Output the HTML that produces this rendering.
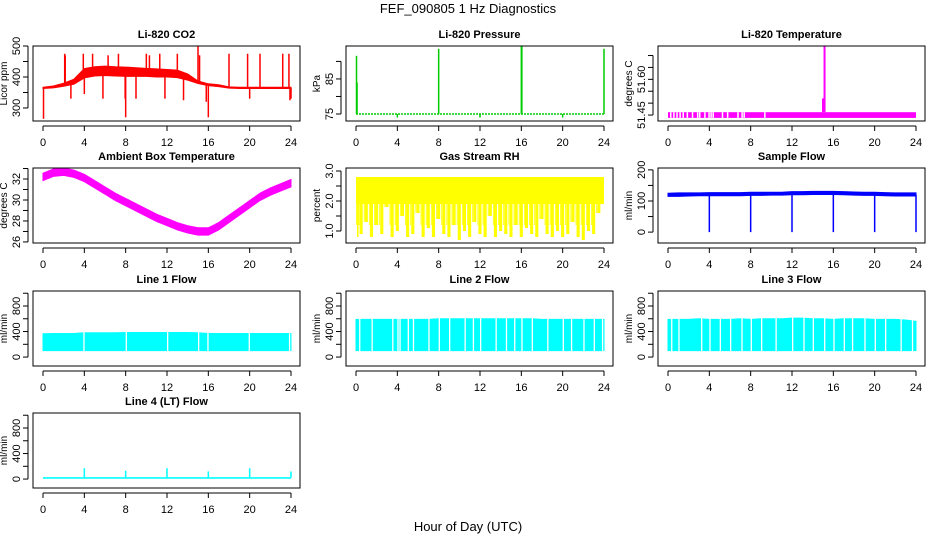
<!DOCTYPE html>
<html><head><meta charset="utf-8"><style>
body{margin:0;background:#fff;}
svg{display:block;font-family:"Liberation Sans",Arial,sans-serif;}
</style></head><body>
<svg id="chart" width="936" height="540" viewBox="0 0 936 540" xmlns="http://www.w3.org/2000/svg">
<rect width="936" height="540" fill="#fff"/>
<text x="468" y="13" text-anchor="middle" font-size="13">FEF_090805  1 Hz Diagnostics</text>
<text x="468" y="531" text-anchor="middle" font-size="13">Hour of Day (UTC)</text>
</svg>
<script>
const hours = [0,1,2,3,4,5,6,7,8,9,10,11,12,13,14,15,16,17,18,19,20,21,22,23,24];
const xTicks = [0,4,8,12,16,20,24];
// CO2
const co2Base = [365,368,375,385,412,418,420,418,417,416,415,413,412,410,400,383,375,372,366,365,365,365,365,365,365];
const co2Half = [2,3,5,8,15,15,15,15,15,14,13,13,12,12,10,4,3,3,2,2,2,2,2,2,2];
const co2SpikeHours = [0.05,2.1,2.15,3.9,4.8,7.3,7.95,8.0,10.0,11.3,13.0,15.0,15.15,16.0,18.0,19.8,21.0,23.2,23.8,24.0,2.7,5.8,9.0,11.8,13.6,15.8,20.0,23.9,4.0,6.3,10.3];
const co2SpikeVals = [265,475,470,475,475,475,330,270,475,475,475,500,470,270,475,475,475,475,475,330,330,330,330,330,325,320,330,325,345,470,470];
// Pressure
const presBase = 75;
const presSpikeHours = [0.05,0.1,8.0,16.0,16.05,24.0,4.0,12.0,20.0];
const presSpikeVals = [91.6,84,93.6,94.4,94.4,93.6,74,74,74];
// Li-820 temperature
const tempLo = 51.438, tempHi = 51.462;
const tempGapHours = [0.2,0.5,0.8,1.1,1.4,1.8,2.3,2.8,3.0,3.5,3.9,4.1,4.3,5.2,5.7,6.7,7.1,7.3,9.3];
const tempSpikeHours = [15.0,15.15];
const tempSpikeVals = [51.52,51.74];
// Ambient box temperature
const ambMid = [32.2,32.6,32.7,32.5,32.1,31.5,30.9,30.3,29.8,29.3,28.8,28.3,27.9,27.5,27.2,27.0,27.0,27.5,28.2,28.9,29.6,30.3,30.8,31.2,31.6];
const ambHalf = 0.35;
// Gas stream RH
const rhTop = 2.8;
const rhLows = [0.8,0.9,1.3,0.8,1.2,0.9,1.8,0.8,1.0,1.5,0.8,0.9,1.6,0.8,1.1,0.8,1.4,0.9,0.8,1.2,0.7,1.0,0.8,1.3,0.9,0.8,1.5,0.8,1.0,0.9,0.8,1.2,0.8,1.1,0.9,0.8,1.4,0.9,0.8,1.0,0.8,0.9,1.3,0.8,0.7,1.0,0.9,1.6,2.4];
// Sample flow
const sfLo = [115,115,116,117,117,117,117,117,118,118,119,119,120,120,121,121,121,120,119,118,118,117,116,116,116];
const sfHi = [125,126,126,126,127,127,127,127,128,128,128,128,130,130,131,131,131,130,129,128,128,127,126,126,126];
const sfDipHours = [4.0,8.0,12.0,16.0,20.0,24.0];
// Line flows
const l1Lo = 100, l1Hi = [365,370,370,370,380,380,380,380,385,385,385,385,385,385,385,380,370,370,370,370,370,370,370,370,370];
const l1Gaps = [3.9,8.0,12.0,15.0,15.9,19.9,23.8];
const l2Lo = 100, l2Hi = [590,590,590,590,590,590,590,590,600,600,600,600,600,600,600,600,600,600,590,590,590,590,590,590,590];
const l2Gaps = [0.3,1.5,3.5,4.0,4.2,5.0,5.5,7.0,8.0,9.0,10.5,11.3,12.0,13.5,14.5,15.3,16.0,17.0,18.5,20.0,20.8,22.0,23.0,23.8];
const l3Lo = 100, l3Hi = [590,590,590,600,590,590,590,600,590,600,600,600,610,610,600,600,590,600,600,600,590,590,590,580,560];
const l3Gaps = [0.3,1.0,3.2,4.0,5.0,6.0,7.1,8.0,9.0,10.4,12.0,13.1,14.0,15.1,16.0,17.0,17.8,19.0,20.0,21.0,22.5,23.6];
const l4Base = 20;
const l4SpikeHours = [4.0,8.0,12.0,16.0,20.0,24.0];
const l4SpikeVals = [170,130,170,120,170,120];

const NS = 'http://www.w3.org/2000/svg';
const svg = document.getElementById('chart');
function mk(tag, attrs, parent){const e=document.createElementNS(NS,tag);for(const k in attrs)e.setAttribute(k,attrs[k]);(parent||svg).appendChild(e);return e;}

const colL=[33,346,658], rowT=[46,168,291,413], W=267, H=75;

function panel(c,r,title,ylab,ymin,ymax,ticks,labels,name){
  const L=colL[c],T=rowT[r];
  const g=mk('g',{});
  
  
  const sx=h=>L+10+h*(248/24);
  const sy=v=>T+H-(v-ymin)/(ymax-ymin)*H;
  const plot=mk('g',{},g);
  
  
  const box=mk('rect',{x:L,y:T,width:W,height:H,fill:'none',stroke:'#000','stroke-width':1},g);
  
  
  const t=mk('text',{x:L+W/2,y:T-8,'text-anchor':'middle','font-size':11,'font-weight':'bold'},g);
  t.textContent=title;
  
  
  const xa=mk('g',{stroke:'#000','stroke-width':1},g);
  
  
  mk('line',{x1:sx(0),x2:sx(24),y1:T+H+5,y2:T+H+5},xa);
  xTicks.forEach(h=>{
    mk('line',{x1:sx(h),x2:sx(h),y1:T+H+5,y2:T+H+10},xa);
    const tl=mk('text',{x:sx(h),y:T+H+25,'text-anchor':'middle','font-size':11,stroke:'none'},g);
    tl.textContent=h;
    
    
  });
  const ya=mk('g',{stroke:'#000','stroke-width':1},g);
  
  
  mk('line',{x1:L-5,x2:L-5,y1:sy(ticks[0]),y2:sy(ticks[ticks.length-1])},ya);
  ticks.forEach((v,i)=>{
    mk('line',{x1:L-10,x2:L-5,y1:sy(v),y2:sy(v)},ya);
    if(labels[i]){
      const yl=mk('text',{x:0,y:0,transform:`translate(${L-13},${sy(v)}) rotate(-90)`,'text-anchor':'middle','font-size':11},g);
      yl.textContent=labels[i];
      
      
    }
  });
  const yt=mk('text',{x:0,y:0,transform:`translate(${L-26},${T+H/2}) rotate(-90)`,'text-anchor':'middle','font-size':10},g);
  yt.textContent=ylab;
  
  
  return {sx,sy,plot};
}
function band(p,lo,hi,col){
  const top=hours.map((h,i)=>p.sx(h)+','+p.sy(hi[i]));
  const bot=hours.map((h,i)=>p.sx(h)+','+p.sy(lo[i])).reverse();
  mk('polygon',{points:top.concat(bot).join(' '),fill:col,stroke:col,'stroke-width':1},p.plot);
}
function vline(p,h,v0,v1,col,w){mk('line',{x1:p.sx(h),x2:p.sx(h),y1:p.sy(v0),y2:p.sy(v1),stroke:col,'stroke-width':w||1.5},p.plot);}
function baseAt(arr,h){const i=Math.min(23,Math.floor(h)),f=h-i;return arr[i]*(1-f)+arr[i+1]*f;}

let p=panel(0,0,'Li-820 CO2','Licor ppm',258,500,[300,350,400,450,500],['300','','400','','500'],'co2');
band(p,co2Base.map((v,i)=>v-co2Half[i]),co2Base.map((v,i)=>v+co2Half[i]),'#ff0000');
co2SpikeHours.forEach((h,i)=>vline(p,h,baseAt(co2Base,h),co2SpikeVals[i],'#ff0000',1.5));

p=panel(1,0,'Li-820 Pressure','kPa',73,94.4,[75,80,85,90],['75','','85',''],'pressure');
mk('line',{x1:p.sx(0),x2:p.sx(24),y1:p.sy(presBase),y2:p.sy(presBase),stroke:'#00cc00','stroke-width':1.5,'stroke-dasharray':'2,1'},p.plot);
presSpikeHours.forEach((h,i)=>vline(p,h,presBase,presSpikeVals[i],'#00cc00',1.5));

p=panel(2,0,'Li-820 Temperature','degrees C',51.425,51.74,[51.45,51.5,51.55,51.6,51.65,51.7],['51.45','','','51.60','',''],'li820-temp');
mk('rect',{x:p.sx(0),y:p.sy(tempHi),width:p.sx(24)-p.sx(0),height:p.sy(tempLo)-p.sy(tempHi),fill:'#ff00ff'},p.plot);
tempGapHours.forEach(h=>mk('rect',{x:p.sx(h),y:p.sy(tempHi),width:1.5,height:p.sy(tempLo)-p.sy(tempHi),fill:'#fff'},p.plot));
tempSpikeHours.forEach((h,i)=>vline(p,h,tempHi,tempSpikeVals[i],'#ff00ff',2));

p=panel(0,1,'Ambient Box Temperature','degrees C',25.9,33.05,[26,27,28,29,30,31,32,33],['26','','28','','30','','32',''],'ambient-temp');
band(p,ambMid.map(v=>v-ambHalf),ambMid.map(v=>v+ambHalf),'#ff00ff');

p=panel(1,1,'Gas Stream RH','percent',0.6,3.1,[1.0,1.5,2.0,2.5,3.0],['1.0','','2.0','','3.0'],'gas-rh');
mk('rect',{x:p.sx(0),y:p.sy(rhTop),width:p.sx(24)-p.sx(0),height:p.sy(1.9)-p.sy(rhTop),fill:'#ffff00'},p.plot);
rhLows.forEach((v,i)=>{const h=i*0.5;const x0=p.sx(Math.max(0,h-0.25)),x1=p.sx(Math.min(24,h+0.25));
  mk('rect',{x:x0+1,y:p.sy(1.9),width:Math.max(1,(x1-x0)*0.6),height:p.sy(v)-p.sy(1.9),fill:'#ffff00'},p.plot);
  mk('rect',{x:x0,y:p.sy(1.9),width:0.8,height:p.sy(Math.max(v,1.2))-p.sy(1.9),fill:'#ffff00'},p.plot);
});

p=panel(2,1,'Sample Flow','ml/min',-35,206,[0,50,100,150,200],['0','','100','','200'],'sample-flow');
band(p,sfLo,sfHi,'#0000ff');
sfDipHours.forEach(h=>vline(p,h,0,120,'#0000ff',1.5));

function flow(c,r,title,lo,hi,gaps,name){
  const q=panel(c,r,title,'ml/min',-140,1035,[0,200,400,600,800,1000],['0','','400','','800',''],name);
  band(q,hi.map(()=>lo),hi,'#00ffff');
  gaps.forEach(h=>mk('rect',{x:q.sx(h),y:q.sy(hi[Math.round(h)])-2,width:1.3,height:q.sy(lo)-q.sy(hi[Math.round(h)])+4,fill:'#fff'},q.plot));
  return q;
}
flow(0,2,'Line 1 Flow',l1Lo,l1Hi,l1Gaps,'line1-flow');
flow(1,2,'Line 2 Flow',l2Lo,l2Hi,l2Gaps,'line2-flow');
flow(2,2,'Line 3 Flow',l3Lo,l3Hi,l3Gaps,'line3-flow');
p=panel(0,3,'Line 4 (LT) Flow','ml/min',-140,1035,[0,200,400,600,800,1000],['0','','400','','800',''],'line4-flow');
mk('rect',{x:p.sx(0),y:p.sy(l4Base+10),width:p.sx(24)-p.sx(0),height:p.sy(l4Base-15)-p.sy(l4Base+10),fill:'#00ffff'},p.plot);
l4SpikeHours.forEach((h,i)=>vline(p,h,l4Base,l4SpikeVals[i],'#00ffff',1.5));
</script>
</body></html>
